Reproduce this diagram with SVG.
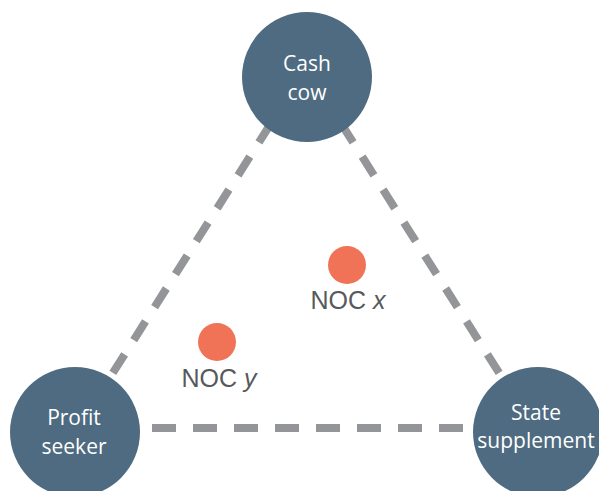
<svg xmlns="http://www.w3.org/2000/svg" width="599" height="491" viewBox="0 0 599 491">
<style>
.edge{stroke:#939598;stroke-width:8;fill:none;stroke-linecap:butt}
.node{fill:#4e6b81}
.nt{fill:#ffffff;font-family:"Open Sans","Liberation Sans",sans-serif;font-size:21px;text-anchor:middle}
.dot{fill:#f07357}
.lab{fill:#58595b;font-family:"Liberation Sans",Arial,sans-serif;font-size:25px;text-anchor:middle}
</style>
<rect width="599" height="491" fill="#ffffff"/>
<g id="connectors">
<line class="edge" x1="306" y1="68" x2="78" y2="428" stroke-dasharray="22 17" stroke-dashoffset="12"/>
<line class="edge" x1="306" y1="68" x2="534" y2="428" stroke-dasharray="22 17" stroke-dashoffset="12"/>
<line class="edge" x1="152" y1="428" x2="463" y2="428" stroke-dasharray="24 17"/>
</g>
<g id="cash-cow">
<circle class="node" cx="307" cy="77" r="65"/>
<text class="nt" x="307" y="71">Cash</text>
<text class="nt" x="307" y="100">cow</text>
</g>
<g id="profit-seeker">
<circle class="node" cx="75" cy="432" r="65"/>
<text class="nt" x="74" y="425">Profit</text>
<text class="nt" x="74" y="454">seeker</text>
</g>
<g id="state-supplement">
<circle class="node" cx="538" cy="432" r="65"/>
<text class="nt" x="536" y="420">State</text>
<text class="nt" x="536" y="448">supplement</text>
</g>
<g id="noc-x">
<circle class="dot" cx="347" cy="265" r="19"/>
<text class="lab" x="348" y="309">NOC <tspan font-style="italic">x</tspan></text>
</g>
<g id="noc-y">
<circle class="dot" cx="217" cy="342" r="19"/>
<text class="lab" x="219" y="387">NOC <tspan font-style="italic">y</tspan></text>
</g>
</svg>
